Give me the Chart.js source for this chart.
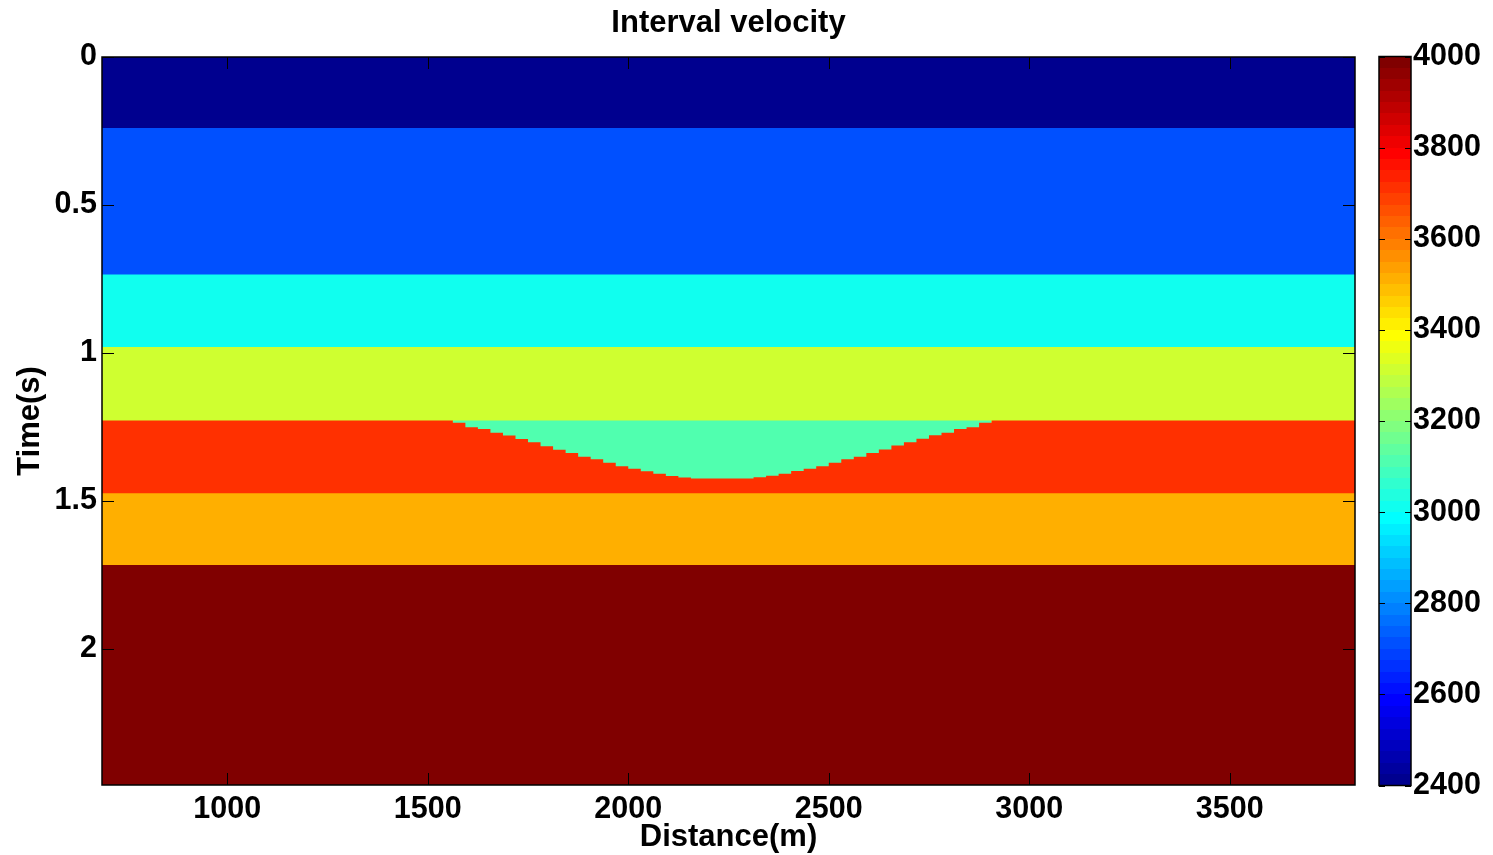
<!DOCTYPE html>
<html>
<head>
<meta charset="utf-8">
<title>Interval velocity</title>
<script src="https://cdn.jsdelivr.net/npm/chart.js@4.4.1/dist/chart.umd.min.js"></script>
<style>
    html, body { margin: 0; padding: 0; background: #fff; }
    #wrap { position: relative; width: 1493px; height: 855px; }
    #mainChart { position: absolute; left: 0; top: 0; }
    #barChart { position: absolute; left: 1360px; top: 0; }
</style>
</head>
<body>
<div id="wrap">
    <canvas id="mainChart" width="1493" height="855"></canvas>
    <canvas id="barChart" width="133" height="855"></canvas>
</div>
<script>
// distance / time extent of the section
const distMin = 687.5;
const distMax = 3812.5;
const timeMax = 2.46;
const distTicks = [1000, 1500, 2000, 2500, 3000, 3500];
const timeTicks = [0, 0.5, 1, 1.5, 2];

// flat layers: top time (s) and interval velocity (m/s)
const layerTops = [0, 0.24, 0.735, 0.98, 1.228, 1.474, 1.717];
const layerVelocity = [2400, 2700, 3000, 3300, 3700, 3500, 4000];

// low velocity lens sitting under the 1.228 s boundary
const lensVelocity = 3100;
const lensTop = 1.228;
const lensLeft = 1562.5;
const lensCell = 31.25;
const lensBottom = [
    1.236, 1.251, 1.257, 1.270, 1.279, 1.291, 1.302, 1.315, 1.327, 1.338,
    1.351, 1.359, 1.371, 1.383, 1.391, 1.400, 1.408, 1.416, 1.421, 1.424,
    1.424, 1.424, 1.424, 1.424, 1.420, 1.415, 1.408, 1.399, 1.391, 1.383,
    1.371, 1.359, 1.351, 1.338, 1.326, 1.313, 1.302, 1.290, 1.278, 1.270,
    1.257, 1.251, 1.236
];

// colour bar
const colorMin = 2400;
const colorMax = 4000;
const velocityTicks = [2400, 2600, 2800, 3000, 3200, 3400, 3600, 3800, 4000];

const FONT = '"Liberation Sans", Arial, Helvetica, sans-serif';
Chart.defaults.font.family = FONT;
Chart.defaults.font.weight = 'bold';
Chart.defaults.color = '#000';

// matlab jet(64)
function jet(k) {
    let r, g, b;
    r = k <= 24 ? 0 : k <= 40 ? (k - 24) / 16 : k <= 56 ? 1 : 1 - (k - 56) / 16;
    g = k <= 8 ? 0 : k <= 24 ? (k - 8) / 16 : k <= 40 ? 1 : k <= 56 ? 1 - (k - 40) / 16 : 0;
    b = k <= 8 ? 0.5 + k / 16 : k <= 24 ? 1 : k <= 40 ? 1 - (k - 24) / 16 : 0;
    return `rgb(${Math.round(r * 255)},${Math.round(g * 255)},${Math.round(b * 255)})`;
}

function velocityColor(v) {
    let i = Math.floor((v - colorMin) / (colorMax - colorMin) * 64);
    i = Math.max(0, Math.min(63, i));
    return jet(i + 1);
}

function layerDataset(top, color, withLens) {
    const pts = [{x: distMin, y: top}];
    if (withLens) {
        lensBottom.forEach((t, i) => pts.push({x: lensLeft + i * lensCell, y: t}));
        pts.push({x: lensLeft + lensBottom.length * lensCell, y: top});
    }
    pts.push({x: distMax, y: top});
    return {
        data: pts,
        stepped: true,
        fill: 'start',
        backgroundColor: color,
        borderColor: 'transparent',
        borderWidth: 0,
        pointRadius: 0
    };
}

// deepest layer first so it is painted last (on top)
const datasets = [];
for (let i = layerTops.length - 1; i >= 0; i--) {
    const hasLens = layerTops[i] === lensTop;
    datasets.push(layerDataset(layerTops[i], velocityColor(layerVelocity[i]), hasLens));
    if (hasLens) {
        datasets.push({
            data: [{x: lensLeft, y: lensTop}, {x: lensLeft + lensBottom.length * lensCell, y: lensTop}],
            fill: 'start',
            backgroundColor: velocityColor(lensVelocity),
            borderColor: 'transparent',
            borderWidth: 0,
            pointRadius: 0
        });
    }
}

// black box + inward tick marks like matlab
const boxPlugin = {
    id: 'box',
    afterDraw(chart, args, opts) {
        const {ctx, chartArea: a} = chart;
        const len = opts.tickLen;
        ctx.save();
        ctx.strokeStyle = '#000';
        ctx.lineWidth = 1;
        ctx.beginPath();
        (opts.xTicks || []).forEach(v => {
            const px = Math.round(chart.scales.x.getPixelForValue(v)) + 0.5;
            ctx.moveTo(px, a.bottom); ctx.lineTo(px, a.bottom - len);
            ctx.moveTo(px, a.top); ctx.lineTo(px, a.top + len);
        });
        (opts.yTicks || []).forEach(v => {
            const py = Math.round(chart.scales.y.getPixelForValue(v)) + 0.5;
            ctx.moveTo(a.left, py); ctx.lineTo(a.left + len, py);
            ctx.moveTo(a.right, py); ctx.lineTo(a.right - len, py);
        });
        ctx.stroke();
        ctx.lineWidth = 1.5;
        ctx.strokeRect(a.left, a.top, a.right - a.left, a.bottom - a.top);
        ctx.restore();
    }
};

new Chart(document.getElementById('mainChart'), {
    type: 'line',
    data: {datasets: datasets},
    plugins: [boxPlugin],
    options: {
        responsive: false,
        animation: false,
        events: [],
        layout: {padding: {left: 0, top: 0, right: 138, bottom: 0}},
        plugins: {
            legend: {display: false},
            tooltip: {enabled: false},
            title: {
                display: true,
                text: 'Interval velocity',
                fullSize: false,
                font: {size: 31, weight: 'bold', lineHeight: 1.2},
                padding: {top: 4.4, bottom: 15.4}
            },
            box: {tickLen: 12, xTicks: distTicks, yTicks: timeTicks}
        },
        scales: {
            x: {
                type: 'linear',
                min: distMin,
                max: distMax,
                afterFit: s => { s.height = 70; },
                afterBuildTicks: s => { s.ticks = distTicks.map(v => ({value: v})); },
                grid: {display: false, drawTicks: false},
                border: {display: false},
                ticks: {
                    padding: 6,
                    maxRotation: 0,
                    font: {size: 30.5, weight: 'bold'},
                    callback: v => String(v)
                },
                title: {
                    display: true,
                    text: 'Distance(m)',
                    font: {size: 31, weight: 'bold', lineHeight: 1.1},
                    padding: {top: 0, bottom: 0}
                }
            },
            y: {
                type: 'linear',
                reverse: true,
                min: 0,
                max: timeMax,
                afterFit: s => { s.width = 102; },
                afterBuildTicks: s => { s.ticks = timeTicks.map(v => ({value: v})); },
                grid: {display: false, drawTicks: false},
                border: {display: false},
                ticks: {
                    padding: 5,
                    font: {size: 30.5, weight: 'bold'},
                    callback: v => String(v)
                },
                title: {
                    display: true,
                    text: 'Time(s)',
                    font: {size: 31, weight: 'bold', lineHeight: 1.2},
                    padding: {top: 11.4, bottom: 0}
                }
            }
        }
    }
});

// colour bar: one floating bar filled with the 64 jet bands
function jetGradient(context) {
    const chart = context.chart;
    if (!chart.chartArea) return '#000';
    const ys = chart.scales.y;
    const y0 = ys.getPixelForValue(colorMin);
    const y1 = ys.getPixelForValue(colorMax);
    const g = chart.ctx.createLinearGradient(0, y0, 0, y1);
    for (let k = 1; k <= 64; k++) {
        g.addColorStop((k - 1) / 64, jet(k));
        g.addColorStop(k / 64, jet(k));
    }
    return g;
}

new Chart(document.getElementById('barChart'), {
    type: 'bar',
    data: {
        labels: ['velocity'],
        datasets: [{
            data: [[colorMin, colorMax]],
            backgroundColor: jetGradient,
            borderWidth: 0,
            barPercentage: 1,
            categoryPercentage: 1
        }]
    },
    plugins: [boxPlugin],
    options: {
        responsive: false,
        animation: false,
        events: [],
        layout: {padding: {left: 19, top: 56.5, right: 0, bottom: 69.5}},
        plugins: {
            legend: {display: false},
            tooltip: {enabled: false},
            box: {tickLen: 6, yTicks: velocityTicks}
        },
        scales: {
            x: {display: false},
            y: {
                position: 'right',
                min: colorMin,
                max: colorMax,
                afterFit: s => { s.width = 82; },
                afterBuildTicks: s => { s.ticks = velocityTicks.map(v => ({value: v})); },
                grid: {display: false, drawTicks: false},
                border: {display: false},
                ticks: {
                    padding: 2,
                    font: {size: 30.5, weight: 'bold'},
                    callback: v => String(v)
                }
            }
        }
    }
});
</script>
</body>
</html>
